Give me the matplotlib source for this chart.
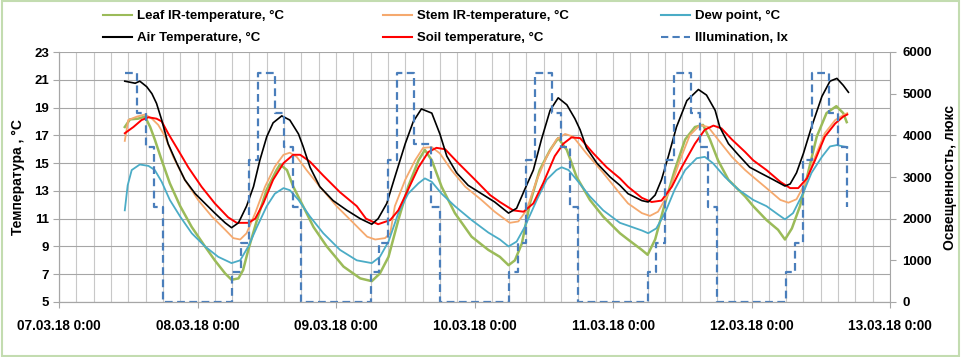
import matplotlib
matplotlib.use("Agg")
import matplotlib.pyplot as plt
import matplotlib.dates as mdates
from matplotlib.lines import Line2D
from matplotlib.patches import Rectangle
from matplotlib.ticker import FuncFormatter, MultipleLocator
import pandas as pd

plt.rcParams.update({
    "font.family": ["Liberation Sans", "DejaVu Sans"],
    "font.weight": "bold",
    "axes.labelweight": "bold",
})

START = pd.Timestamp("2018-03-07 00:00")

# hours since 07.03.18 0:00 and readings
air_h = [11.4, 13.2, 14.0, 15.2, 16.1, 16.9, 17.8, 18.9, 20.4, 21.8, 23.6, 25.3, 27.0, 28.8,
         29.9, 31.1, 32.5, 33.7, 34.8, 36.0, 37.1, 38.6, 40.0, 41.5, 42.3, 43.5, 45.2, 47.5,
         49.9, 52.2, 54.2, 55.3, 56.8, 58.2, 60.0, 61.4, 62.8, 64.6, 66.0, 67.2, 68.9, 70.9,
         73.2, 75.5, 76.4, 77.9, 79.3, 80.7, 82.2, 83.6, 85.1, 86.5, 88.0, 89.4, 90.3, 91.4,
         93.2, 95.5, 97.2, 98.6, 101.0, 102.1, 103.3, 104.4, 105.6, 107.0, 108.8, 110.8, 112.2,
         113.7, 114.5, 116.0, 117.7, 119.7, 121.5, 123.8, 125.8, 126.7, 127.8, 129.0, 130.4,
         132.2, 133.6, 134.8, 135.9, 136.8]
air_t = [20.9, 20.75, 20.9, 20.5, 20.0, 19.3, 18.1, 16.4, 15.0, 13.8, 12.8, 12.1, 11.4, 10.7,
         10.35, 10.7, 11.9, 13.3, 15.2, 16.9, 17.9, 18.4, 18.1, 17.1, 16.2, 14.7, 13.3, 12.3,
         11.6, 11.0, 10.6, 11.0, 12.1, 14.0, 16.4, 18.0, 18.9, 18.6, 17.1, 15.5, 14.3, 13.4,
         12.8, 12.2, 11.9, 11.4, 11.75, 13.1, 14.5, 16.7, 18.8, 19.7, 19.2, 18.2, 17.4, 16.1,
         15.0, 14.0, 13.4, 12.8, 12.3, 12.2, 12.7, 13.8, 15.5, 17.6, 19.5, 20.3, 19.9,
         18.8, 17.6, 16.4, 15.6, 14.7, 14.3, 13.8, 13.35, 13.5, 14.3, 15.7, 17.6,
         19.8, 20.9, 21.1, 20.6, 20.1]

soil_h = [11.4, 12.9, 14.3, 15.5, 16.9, 17.8, 18.9, 20.7, 22.4, 24.7, 27.0, 29.3, 30.8, 32.8,
          34.0, 35.4, 37.1, 38.9, 40.6, 41.8, 43.5, 45.8, 48.7, 51.6, 53.2, 55.3, 57.4, 58.8,
          60.5, 62.3, 64.0, 65.4, 66.9, 69.2, 72.1, 74.7, 76.4, 78.7, 80.5, 82.2, 83.9, 85.9,
          87.4, 88.8, 90.3, 92.6, 94.9, 97.2, 98.6, 101.0, 102.7, 104.4, 106.2, 107.9, 110.2,
          111.9, 113.4, 114.8, 116.6, 118.9, 120.3, 122.6, 125.0, 126.7, 128.1, 129.6, 131.0,
          132.7, 134.5, 135.9, 136.6]
soil_t = [17.15, 17.6, 18.1, 18.3, 18.2, 18.0, 17.15, 15.9, 14.7, 13.3, 12.1, 11.1, 10.7, 10.7,
          11.0, 12.1, 13.8, 15.0, 15.6, 15.6, 15.1, 14.1, 12.9, 11.9, 11.0, 10.6, 10.9, 11.6,
          13.1, 14.7, 15.8, 16.1, 16.0, 15.0, 13.8, 12.7, 12.2, 11.6, 11.5, 12.1, 13.55, 15.5,
          16.4, 16.85, 16.8, 15.7, 14.7, 13.9, 13.3, 12.5, 12.2, 12.3, 13.3, 14.7, 16.4,
          17.4, 17.7, 17.5, 16.7, 15.8, 15.2, 14.5, 13.65, 13.2, 13.2, 13.9, 15.2,
          16.9, 17.85, 18.35, 18.5]

stem_h = [11.4, 12.0, 13.5, 14.9, 16.1, 17.2, 18.4, 19.8, 21.8, 24.1, 26.5, 28.8, 30.2, 31.4,
          32.5, 34.0, 35.7, 37.4, 38.9, 40.0, 41.2, 42.9, 45.2, 48.1, 51.0, 53.4, 54.8, 56.5,
          57.4, 58.2, 60.0, 61.7, 63.1, 64.6, 66.0, 68.0, 70.4, 73.2, 75.5, 78.1, 79.6, 81.0,
          82.8, 84.5, 86.2, 87.7, 89.1, 91.4, 94.3, 97.2, 98.6, 101.0, 102.4, 103.8, 105.6,
          107.6, 109.3, 111.1, 112.5, 114.2, 116.6, 118.9, 120.3, 122.6, 125.0, 126.4, 127.8,
          129.3, 131.0, 132.7, 134.5, 135.9, 136.6]
stem_t = [16.6, 18.1, 18.35, 18.5, 18.2, 17.75, 16.9, 15.45, 13.8, 12.35, 11.15, 10.2, 9.6, 9.5,
          9.95, 11.4, 13.3, 14.75, 15.6, 15.75, 15.45, 14.5, 13.3, 11.9, 10.7, 9.7, 9.5, 9.6,
          9.95, 11.9, 13.8, 15.2, 16.1, 16.15, 15.7, 14.5, 13.3, 12.35, 11.5, 10.7, 10.8, 11.6,
          13.8, 15.45, 16.7, 17.1, 16.9, 15.7, 14.3, 12.8, 12.1, 11.4, 11.2, 11.5, 12.8,
          15.2, 17.0, 17.75, 17.6, 16.7, 15.45, 14.5, 14.0, 13.2, 12.35, 12.15, 12.4,
          13.55, 15.45, 17.15, 18.1, 18.45, 18.6]

leaf_h = [11.4, 12.3, 13.7, 14.9, 15.8, 16.6, 17.8, 19.2, 21.0, 23.0, 25.3, 27.0, 28.8, 29.9,
          31.1, 31.9, 32.8, 34.3, 36.0, 37.7, 38.3, 39.5, 40.6, 42.3, 44.1, 46.4, 49.3, 52.2,
          54.2, 55.6, 57.1, 58.8, 60.5, 62.3, 63.4, 64.6, 66.3, 68.6, 71.5, 74.4, 76.4, 77.9,
          79.0, 80.2, 81.6, 83.3, 85.1, 86.5, 88.0, 89.7, 92.0, 94.3, 97.2, 98.6, 101.0, 102.0,
          103.3, 105.0, 106.7, 108.5, 110.2, 111.6, 112.8, 114.2, 116.0, 118.9, 120.3, 122.6,
          124.6, 125.8, 127.0, 128.4, 129.8, 131.3, 133.0, 134.7, 135.9, 136.5]
leaf_t = [17.6, 18.15, 18.2, 18.35, 17.6, 16.7, 15.2, 13.55, 11.9, 10.4, 9.0, 8.0, 7.05, 6.6,
          6.7, 7.3, 8.75, 10.9, 13.1, 14.5, 14.9, 14.5, 13.3, 11.9, 10.4, 9.0, 7.55, 6.7,
          6.5, 7.05, 8.25, 10.9, 13.3, 15.2, 15.95, 15.2, 13.3, 11.4, 9.7, 8.75, 8.25, 7.65,
          8.0, 9.2, 12.1, 14.5, 15.95, 16.8, 15.95, 14.0, 12.35, 11.15, 9.95, 9.5, 8.75, 8.4,
          9.5, 12.1, 14.5, 16.7, 17.6, 17.75, 16.7, 15.2, 13.8, 12.6, 11.9, 10.9,
          10.2, 9.5, 10.3, 11.9, 14.3, 16.9, 18.6, 19.1, 18.6, 17.95]

dew_h = [11.4, 11.9, 12.6, 14.0, 15.5, 16.6, 17.8, 19.2, 21.0, 23.0, 25.3, 27.6, 29.9, 31.4,
         32.8, 34.3, 36.0, 37.4, 38.9, 40.0, 41.5, 43.5, 45.8, 48.7, 51.6, 54.2, 55.6, 57.1,
         58.8, 60.5, 62.3, 63.4, 64.6, 66.3, 68.6, 71.5, 74.4, 76.4, 77.9, 79.3, 80.7, 82.8,
         84.5, 86.2, 87.1, 88.3, 89.7, 92.0, 94.3, 97.2, 98.6, 101.0, 102.1, 103.5, 105.0,
         106.7, 108.5, 110.5, 111.9, 113.3, 115.4, 117.7, 120.3, 122.6, 124.6, 125.8, 127.2,
         128.9, 130.4, 132.2, 133.6, 134.8, 135.9, 136.6]
dew_t = [11.6, 13.4, 14.5, 14.9, 14.8, 14.5, 13.65, 12.35, 11.15, 9.95, 9.0, 8.25, 7.8, 8.0,
         9.0, 10.4, 11.9, 12.8, 13.2, 13.05, 12.35, 11.15, 9.95, 8.75, 8.0, 7.8, 8.25, 9.35,
         11.4, 12.8, 13.55, 13.9, 13.65, 12.8, 11.9, 10.9, 10.0, 9.5, 9.0, 9.35, 10.4, 12.35,
         13.8, 14.5, 14.7, 14.5, 13.8, 12.6, 11.6, 10.7, 10.5, 10.15, 9.95, 10.3, 11.4,
         13.1, 14.5, 15.35, 15.45, 15.0, 14.0, 13.1, 12.35, 11.9, 11.3, 10.95, 11.4,
         12.8, 14.3, 15.45, 16.2, 16.3, 16.2, 16.15]

illum_h = [11.5, 13.5, 15.0, 16.5, 18.0,
           30.0, 31.5, 33.0, 34.5, 37.5, 39.0, 40.5, 42.0,
           54.0, 55.5, 57.0, 58.5, 61.5, 63.0, 64.5, 66.0,
           78.0, 79.5, 81.0, 82.5, 85.5, 87.0, 88.5, 90.0,
           102.0, 103.5, 105.0, 106.5, 109.5, 111.0, 112.5, 114.0,
           126.0, 127.5, 129.0, 130.5, 133.5, 135.0, 136.5, 136.6]
illum_lx = [5500, 4530, 3730, 2290, 0,
            730, 1420, 3420, 5500, 4530, 3730, 2290, 0,
            730, 1420, 3420, 5500, 3800, 3800, 2290, 0,
            730, 1420, 3420, 5500, 4530, 3730, 2290, 0,
            730, 1420, 3420, 5500, 4530, 3730, 2290, 0,
            730, 1420, 3420, 5500, 4530, 3730, 2290, 2290]

temp_ticks = [5, 7, 9, 11, 13, 15, 17, 19, 21, 23]

labels = {
    "leaf": "Leaf IR-temperature, °C",
    "stem": "Stem IR-temperature, °C",
    "dew": "Dew point, °C",
    "air": "Air Temperature, °C",
    "soil": "Soil temperature, °C",
    "illum": "Illumination, lx",
}
colors = {
    "leaf": "#9bbb59",
    "stem": "#f5a96e",
    "dew": "#4bacc6",
    "air": "#000000",
    "soil": "#ff0000",
    "illum": "#4a7ebb",
}
DASH = (0, (3.5, 2))


def to_time(hours):
    return START + pd.to_timedelta(hours, unit="h")


fig = plt.figure(figsize=(9.61, 3.57), dpi=100)
ax = fig.add_axes([59 / 961, 1 - 302 / 357, 831 / 961, 250 / 357])
ax2 = ax.twinx()

ax.plot(to_time(leaf_h), leaf_t, color=colors["leaf"], lw=1.8, zorder=3)
ax.plot(to_time(stem_h), stem_t, color=colors["stem"], lw=1.3, zorder=3)
ax.plot(to_time(dew_h), dew_t, color=colors["dew"], lw=1.3, zorder=3)
ax.plot(to_time(soil_h), soil_t, color=colors["soil"], lw=1.4, zorder=4)
ax.plot(to_time(air_h), air_t, color=colors["air"], lw=1.2, zorder=5)
ax2.step(to_time(illum_h), illum_lx, where="post", color=colors["illum"],
         lw=1.6, linestyle=DASH)

ax.set_xlim(START, START + pd.Timedelta(days=6))
ax.set_ylim(5, 23)
ax.set_yticks(temp_ticks)
ax2.set_ylim(0, 6000)
ax2.yaxis.set_major_locator(MultipleLocator(1000))

ax.xaxis.set_major_locator(mdates.DayLocator())
ax.xaxis.set_minor_locator(mdates.HourLocator(byhour=range(0, 24, 3)))
ax.xaxis.set_major_formatter(FuncFormatter(
    lambda v, pos: f"{mdates.num2date(v):%d.%m.%y} 0:00"))

ax.grid(True, which="major", axis="y", color="#a6a6a6", lw=0.8)
ax.grid(True, which="both", axis="x", color="#c8c8c8", lw=0.8)
ax.set_axisbelow(True)

for a in (ax, ax2):
    a.spines["top"].set_visible(False)
    for side in ("left", "right", "bottom"):
        a.spines[side].set_color("#a6a6a6")
    a.tick_params(colors="#a6a6a6", labelcolor="black", labelsize=9.5, length=4, width=0.8)
ax.spines["right"].set_visible(False)
ax.tick_params(axis="x", which="minor", length=0)
ax.tick_params(axis="x", which="major", pad=8, labelsize=9.8)
ax.tick_params(axis="y", pad=3)
ax2.tick_params(axis="y", pad=5)
for lab in ax.get_xticklabels() + ax.get_yticklabels() + ax2.get_yticklabels():
    lab.set_fontweight("bold")

ax.set_ylabel("Температура , °С", fontsize=10, labelpad=7)
ax2.set_ylabel("Освещенность, люкс", fontsize=10, labelpad=8)

# legend: three columns placed like the original
columns = [("leaf", "air", 103), ("stem", "soil", 383), ("dew", "illum", 661)]
for top_key, bottom_key, x_px in columns:
    hs = []
    for key in (top_key, bottom_key):
        ls = DASH if key == "illum" else "-"
        hs.append(Line2D([], [], color=colors[key], lw=1.5, linestyle=ls))
    fig.legend(hs, [labels[top_key], labels[bottom_key]], loc="upper left",
               bbox_to_anchor=(x_px / 961, 1 - 10 / 357), frameon=False,
               borderpad=0, borderaxespad=0, handlelength=2.2, handletextpad=0.4,
               labelspacing=0.75, prop={"weight": "bold", "size": 9.5})

fig.patches.append(Rectangle((0.002, 0.004), 0.996, 0.992, transform=fig.transFigure,
                             fill=False, edgecolor="#c3dcb0", lw=1.5))

fig.savefig("out.png", dpi=100)
